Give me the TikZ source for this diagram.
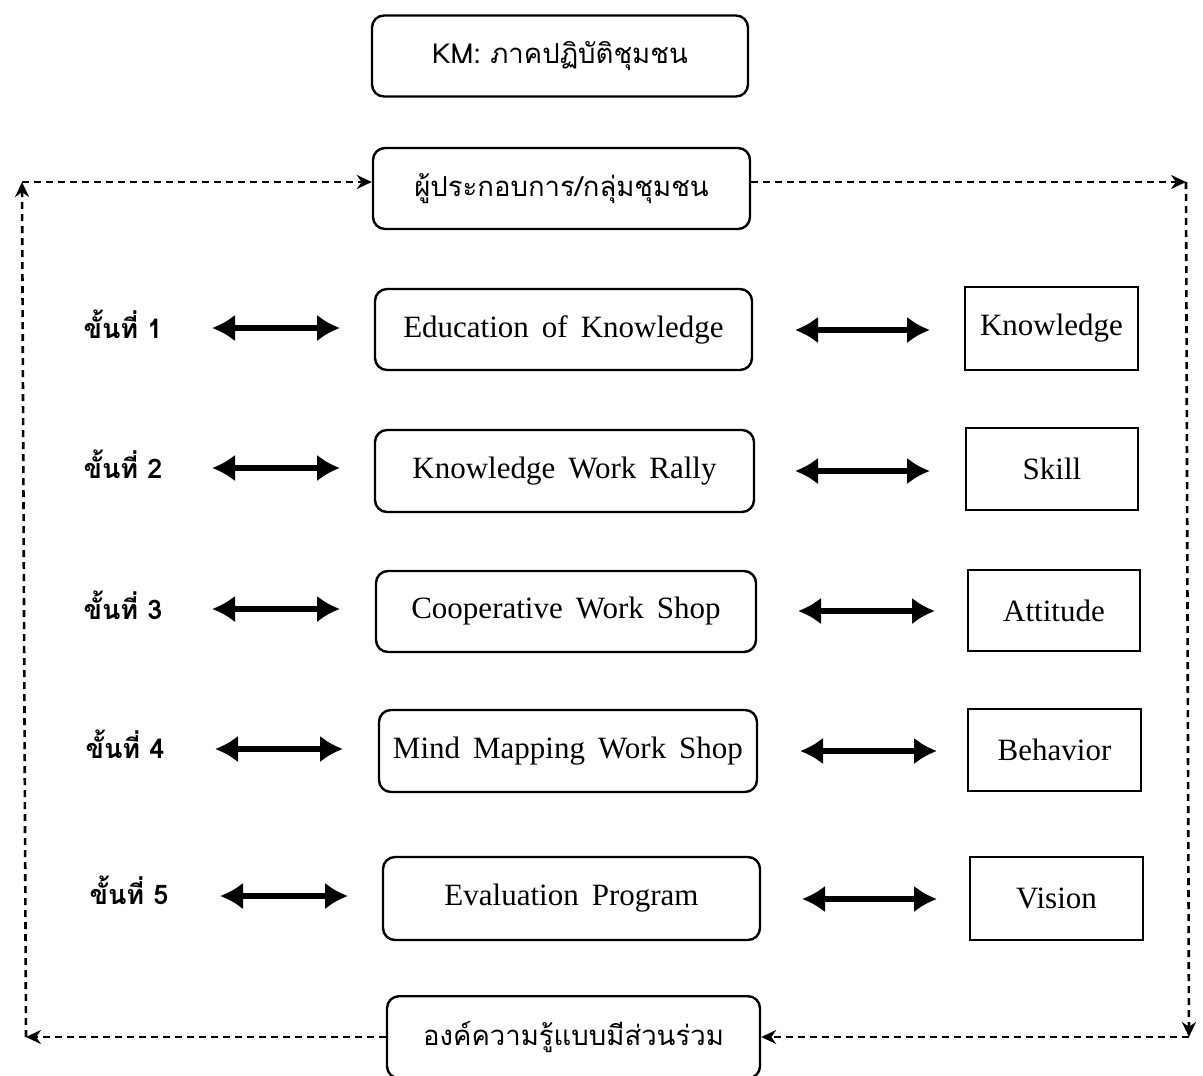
\documentclass[tikz,border=0pt]{standalone}
\usepackage{fontspec}
\setmainfont{Liberation Serif}
\newfontfamily\thaifont[Script=Thai]{Loma}
\usetikzlibrary{arrows.meta}
\tikzset{
  rbox/.style={draw, line width=2.4pt, rounded corners=12pt, inner sep=0pt},
  sbox/.style={draw, line width=2pt, inner sep=0pt},
  entxt/.style={font=\fontsize{31}{34}\selectfont, execute at begin node={\spaceskip=0.42em plus 0.1em\relax}},
  thtxt/.style={font=\thaifont\fontsize{27.5}{30}\selectfont},
  steplbl/.style={font=\thaifont\bfseries\fontsize{27}{30}\selectfont, anchor=west},
  dbl/.style={line width=5.5pt, {Latex[length=23pt,width=27pt]}-{Latex[length=23pt,width=27pt]}},
  dsh/.style={line width=2.6pt, dash pattern=on 7pt off 5pt, -{Stealth[length=15pt,width=14pt]}}
}
\begin{document}
\begin{tikzpicture}[x=1pt,y=-1pt]
\useasboundingbox (0,0) rectangle (1203,1076);
% top boxes
\node[rbox, thtxt, minimum width=376pt, minimum height=81pt] (km) at (560,56) {KM: ภาคปฏิบัติชุมชน};
\node[rbox, thtxt, minimum width=377pt, minimum height=81pt] (ent) at (561.5,188.5) {ผู้ประกอบการ/กลุ่มชุมชน};
\node[rbox, thtxt, minimum width=373pt, minimum height=82pt, anchor=north] (bot) at (573.5,995) {องค์ความรู้แบบมีส่วนร่วม};
% middle boxes
\node[rbox, entxt, minimum width=377pt, minimum height=81pt] (m1) at (563.5,329.5) {Education of Knowledge};
\node[rbox, entxt, minimum width=379pt, minimum height=82pt] (m2) at (564.5,471) {Knowledge Work Rally};
\node[rbox, entxt, minimum width=380pt, minimum height=81pt] (m3) at (566,611.5) {Cooperative Work Shop};
\node[rbox, entxt, minimum width=378pt, minimum height=82pt] (m4) at (568,751) {Mind Mapping Work Shop};
\node[rbox, entxt, minimum width=377pt, minimum height=83pt] (m5) at (571.5,898.5) {Evaluation Program};
% right boxes
\node[sbox, entxt, minimum width=173pt, minimum height=83pt] (r1) at (1051.5,328.5) {Knowledge};
\node[sbox, entxt, minimum width=172pt, minimum height=82pt] (r2) at (1052,469) {Skill};
\node[sbox, entxt, minimum width=172pt, minimum height=81pt] (r3) at (1054,610.5) {Attitude};
\node[sbox, entxt, minimum width=173pt, minimum height=82pt] (r4) at (1054.5,750) {Behavior};
\node[sbox, entxt, minimum width=173pt, minimum height=83pt] (r5) at (1056.5,898.5) {Vision};
% step labels
\node[steplbl] (s1) at (80,324) {ขั้นที่ 1};
\node[steplbl] (s2) at (80,464) {ขั้นที่ 2};
\node[steplbl] (s3) at (80,605) {ขั้นที่ 3};
\node[steplbl] (s4) at (82,744) {ขั้นที่ 4};
\node[steplbl] (s5) at (86,890) {ขั้นที่ 5};
% arrow end coordinates
\coordinate (a1l) at (212,328); \coordinate (a1r) at (340,328);
\coordinate (a2l) at (212,468); \coordinate (a2r) at (340,468);
\coordinate (a3l) at (212,609); \coordinate (a3r) at (340,609);
\coordinate (a4l) at (215,749); \coordinate (a4r) at (343,749);
\coordinate (a5l) at (220,896); \coordinate (a5r) at (348,896);
\coordinate (b1l) at (795,330); \coordinate (b1r) at (930,330);
\coordinate (b2l) at (795,471); \coordinate (b2r) at (930,471);
\coordinate (b3l) at (798,611); \coordinate (b3r) at (935,611);
\coordinate (b4l) at (800,751); \coordinate (b4r) at (937,751);
\coordinate (b5l) at (802,899); \coordinate (b5r) at (937,899);
\foreach \i in {1,...,5}{
  \draw[dbl] (a\i l) -- (a\i r);
  \draw[dbl] (b\i l) -- (b\i r);
}
% dashed loop
\coordinate (TL) at (22,182);
\coordinate (TR) at (1186,182);
\coordinate (BR) at (1189,1037);
\coordinate (BL) at (26,1037);
\draw[dsh] (ent.east |- TR) -- (TR);
\draw[dsh] (TR) -- (BR);
\draw[dsh] (BR) -- (bot.east |- BR);
\draw[dsh] (bot.west |- BL) -- (BL);
\draw[dsh] (BL) -- (TL);
\draw[dsh] (TL) -- (ent.west |- TL);
\end{tikzpicture}
\end{document}
